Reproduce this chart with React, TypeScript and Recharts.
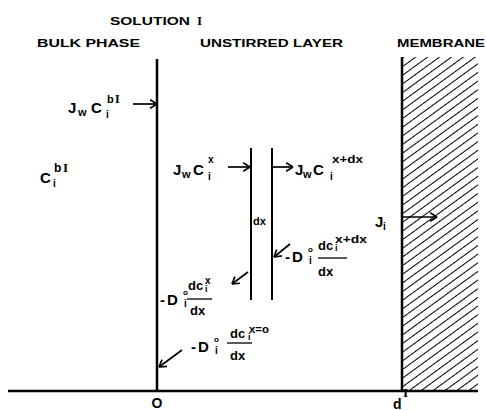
import { ComposedChart, ReferenceArea, ReferenceLine, Scatter, XAxis, YAxis } from "recharts";

// diagram coordinates: x = 0 at the solution/layer boundary, y = 0 on the baseline
const X_DOMAIN = [-157, 329];
const Y_DOMAIN = [-19, 391];

const BASELINE = { x1: -149, x2: 321 };
const BOUNDARY_X = 0;
const BOUNDARY_TOP = 332;
const SLICE_X = [94, 115]; // x and x + dx
const SLICE_Y = [91, 243];
const MEMBRANE = { x1: 245, x2: 321, y1: 0, y2: 334 };

const ARROWS = [
  { id: "bulk", from: [-24, 287], to: [0, 287] },
  { id: "in", from: [71, 224], to: [93, 224] },
  { id: "out", from: [116, 224], to: [136, 224] },
  { id: "ji", from: [245, 174], to: [280, 174] },
  { id: "diffOut", from: [133, 147], to: [117, 134] },
  { id: "diffIn", from: [91, 119], to: [75, 107] },
  { id: "diffZero", from: [25, 41], to: [2, 24] },
];

const LABELS = [
  { id: "solution", x: -47, y: 366 },
  { id: "bulkPhase", x: -120, y: 344 },
  { id: "layer", x: 43, y: 344 },
  { id: "membrane", x: 240, y: 344 },
  { id: "jwcBulk", x: -89, y: 278 },
  { id: "cBulk", x: -117, y: 208 },
  { id: "jwcX", x: 16, y: 216 },
  { id: "jwcXdx", x: 138, y: 216 },
  { id: "dx", x: 96, y: 166 },
  { id: "diffXdx", x: 135, y: 129 },
  { id: "diffX", x: 10, y: 86 },
  { id: "diffX0", x: 41, y: 39 },
  { id: "ji", x: 218, y: 164 },
  { id: "zero", x: 0, y: -17 },
  { id: "dI", x: 236, y: -18 },
];

const FONT = "'Liberation Sans', Arial, sans-serif";
const INK = "#000";

const arrowSegments = () =>
  ARROWS.flatMap(({ id, from, to }) => {
    const ang = Math.atan2(to[1] - from[1], to[0] - from[0]);
    const len = 8;
    const spread = 0.55;
    const head = (s: number) => ({
      x: to[0] - len * Math.cos(ang + s * spread),
      y: to[1] - len * Math.sin(ang + s * spread),
    });
    const tip = { x: to[0], y: to[1] };
    return [
      { key: `${id}-shaft`, seg: [{ x: from[0], y: from[1] }, tip] },
      { key: `${id}-h1`, seg: [head(1), tip] },
      { key: `${id}-h2`, seg: [head(-1), tip] },
    ];
  });

const t = (s: string, x: number, y: number, size: number, extra: Record<string, unknown> = {}) => (
  <text x={x} y={y} fontSize={size} fontFamily={FONT} fontWeight={700} fill={INK} {...extra}>
    {s}
  </text>
);

const romanI = (x: number, y: number, size: number) =>
  t("I", x, y, size, { fontFamily: "'Liberation Serif', serif" });

const header = (s: string, len: number) =>
  t(s, 0, 0, 11, { textLength: len, lengthAdjust: "spacingAndGlyphs" });

const jwc = (w: number, c: number, i: number) => (
  <>
    {t("J", 0, 0, 15)}
    {t("w", w, 3, 11)}
    {t("C", c, 0, 15)}
    {t("i", i, 5, 10)}
  </>
);

const fracLine = (x1: number, x2: number, y: number) => (
  <line x1={x1} x2={x2} y1={y} y2={y} stroke={INK} strokeWidth={1.3} />
);

const minusD = (dx: number) => (
  <>
    {t("-", -7 + dx, 0, 15)}
    {t("D", dx, 0, 15)}
    {t("o", 16 + dx, -10, 8)}
    {t("i", 17 + dx, 2, 10)}
  </>
);

const renderLabel = (id: string) => {
  switch (id) {
    case "solution":
      return (
        <>
          {t("SOLUTION", 0, 0, 11, { textLength: 80, lengthAdjust: "spacingAndGlyphs" })}
          {romanI(87, 0, 13)}
        </>
      );
    case "bulkPhase":
      return header("BULK PHASE", 103);
    case "layer":
      return header("UNSTIRRED LAYER", 143);
    case "membrane":
      return header("MEMBRANE", 88);
    case "jwcBulk":
      return (
        <>
          {jwc(10, 23, 38)}
          {t("b", 39, -10, 11)}
          {romanI(47, -10, 12)}
        </>
      );
    case "cBulk":
      return (
        <>
          {t("C", 0, 0, 15)}
          {t("i", 13, 4, 10)}
          {t("b", 14, -11, 12)}
          {romanI(23, -11, 13)}
        </>
      );
    case "jwcX":
      return (
        <>
          {jwc(9, 20, 35)}
          {t("x", 35, -12, 10)}
        </>
      );
    case "jwcXdx":
      return (
        <>
          {jwc(8, 18, 35)}
          {t("x+dx", 37, -12, 10, { textLength: 31, lengthAdjust: "spacingAndGlyphs" })}
        </>
      );
    case "dx":
      return t("dx", 0, 0, 11);
    case "diffXdx":
      return (
        <>
          {minusD(0)}
          {t("dc", 26, -12, 13)}
          {t("i", 43, -11, 9)}
          {t("x+dx", 43, -19, 10, { textLength: 32, lengthAdjust: "spacingAndGlyphs" })}
          {fracLine(26, 55, -4)}
          {t("dx", 26, 14, 13)}
        </>
      );
    case "diffX":
      return (
        <>
          {minusD(0)}
          {t("dc", 21, -15, 13)}
          {t("i", 38, -13, 9)}
          {t("x", 38, -21, 10)}
          {fracLine(20, 45, -6)}
          {t("dx", 23, 10, 13)}
        </>
      );
    case "diffX0":
      return (
        <>
          {minusD(0)}
          {t("dc", 32, -14, 13)}
          {t("i", 50, -12, 9)}
          {t("x=o", 51, -19, 10, { textLength: 20, lengthAdjust: "spacingAndGlyphs" })}
          {fracLine(29, 54, -9)}
          {t("dx", 32, 8, 13)}
        </>
      );
    case "ji":
      return (
        <>
          {t("J", 0, 0, 15)}
          {t("i", 8, 3, 10)}
        </>
      );
    case "zero":
      return t("O", 0, 0, 14, { textAnchor: "middle" });
    case "dI":
      return (
        <>
          {t("d", 0, 0, 14)}
          {romanI(10, -12, 13)}
        </>
      );
    default:
      return null;
  }
};

const LabelShape = (props: any) => {
  const { cx, cy, payload } = props;
  if (cx == null || cy == null) return null;
  return <g transform={`translate(${cx},${cy})`}>{renderLabel(payload?.id)}</g>;
};

export default function App() {
  return (
    <div style={{ position: "absolute", left: 0, top: 0, background: "#fff" }}>
      <ComposedChart width={486} height={410} margin={{ top: 0, right: 0, bottom: 0, left: 0 }} data={LABELS}>
        <defs>
          <pattern
            id="hatch"
            patternUnits="userSpaceOnUse"
            width={7}
            height={7}
            patternTransform="rotate(-36)"
          >
            <line x1={0} y1={3.5} x2={7} y2={3.5} stroke={INK} strokeWidth={1} />
          </pattern>
        </defs>
        <XAxis type="number" dataKey="x" domain={X_DOMAIN} hide allowDataOverflow />
        <YAxis type="number" dataKey="y" domain={Y_DOMAIN} hide allowDataOverflow />
        <ReferenceArea
          x1={MEMBRANE.x1}
          x2={MEMBRANE.x2}
          y1={MEMBRANE.y1}
          y2={MEMBRANE.y2}
          fill="url(#hatch)"
          fillOpacity={1}
          stroke="none"
          ifOverflow="visible"
        />
        <ReferenceLine
          segment={[
            { x: BASELINE.x1, y: 0 },
            { x: BASELINE.x2, y: 0 },
          ]}
          stroke={INK}
          strokeWidth={2.5}
          ifOverflow="visible"
        />
        <ReferenceLine
          segment={[
            { x: BOUNDARY_X, y: 0 },
            { x: BOUNDARY_X, y: BOUNDARY_TOP },
          ]}
          stroke={INK}
          strokeWidth={2.5}
          ifOverflow="visible"
        />
        <ReferenceLine
          segment={[
            { x: MEMBRANE.x1, y: 0 },
            { x: MEMBRANE.x1, y: MEMBRANE.y2 },
          ]}
          stroke={INK}
          strokeWidth={2.5}
          ifOverflow="visible"
        />
        {SLICE_X.map((x) => (
          <ReferenceLine
            key={`slice-${x}`}
            segment={[
              { x, y: SLICE_Y[0] },
              { x, y: SLICE_Y[1] },
            ]}
            stroke={INK}
            strokeWidth={2}
            ifOverflow="visible"
          />
        ))}
        {arrowSegments().map(({ key, seg }) => (
          <ReferenceLine key={key} segment={seg} stroke={INK} strokeWidth={1.7} ifOverflow="visible" />
        ))}
        <Scatter data={LABELS} dataKey="y" shape={LabelShape} isAnimationActive={false} />
      </ComposedChart>
    </div>
  );
}
